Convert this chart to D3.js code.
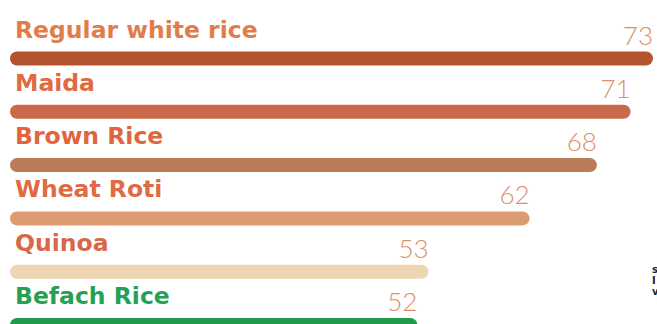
<!DOCTYPE html>
<html>
<head>
<meta charset="utf-8">
<script src="https://cdnjs.cloudflare.com/ajax/libs/d3/7.8.5/d3.min.js"></script>
<style>
  body { margin: 0; background: #fff; }
  .cat { font-family: "DejaVu Sans", sans-serif; font-weight: 700; }
  .val { font-family: "Lato", sans-serif; font-weight: 300; }
</style>
</head>
<body>
<div id="chart"></div>
<script>
// Glycemic index values
var categories = ["Regular white rice", "Maida", "Brown Rice", "Wheat Roti", "Quinoa", "Befach Rice"];
var values = [73, 71, 68, 62, 53, 52];
var barColors = ["#b5532f", "#c96a4b", "#b97c59", "#dd9b72", "#eed6b3", "#1d9b4b"];
var labelColors = ["#e27c4c", "#e06a42", "#e0653f", "#df6a43", "#d9684a", "#27a055"];

var svgWidth = 657;
var svgHeight = 324;

var svg = d3.select("#chart")
  .append("svg")
  .attr("width", svgWidth)
  .attr("height", svgHeight);

var rows = categories.map(function(c, i) {
  return { name: c, value: values[i], bar: barColors[i], label: labelColors[i] };
});

// Scales
var xScale = d3.scaleLinear()
  .domain([15.7, 73])
  .range([0, 643]);

var yScale = d3.scalePoint()
  .domain(categories)
  .range([58.5, 325]);

var barH = 14;
var left = 10;

var rowGroup = svg.selectAll("g.row")
  .data(rows)
  .enter()
  .append("g")
  .attr("class", "row")
  .attr("transform", d => `translate(${left}, ${yScale(d.name)})`);

rowGroup.append("rect")
  .attr("x", 0)
  .attr("y", -barH / 2)
  .attr("width", d => xScale(d.value))
  .attr("height", barH)
  .attr("rx", barH / 2)
  .attr("fill", d => d.bar);

rowGroup.append("text")
  .attr("class", "cat")
  .attr("x", 5)
  .attr("y", -21)
  .attr("font-size", 23.5)
  .attr("fill", d => d.label)
  .text(d => d.name);

rowGroup.append("text")
  .attr("class", "val")
  .attr("x", d => xScale(d.value))
  .attr("y", -14)
  .attr("text-anchor", "end")
  .attr("font-size", 26)
  .attr("fill", "#d98f69")
  .text(d => d.value);

// cut-off text at the right edge
var frag = ["s", "I", "v"];
svg.selectAll("text.frag")
  .data(frag)
  .enter()
  .append("text")
  .attr("class", "frag")
  .attr("x", 652)
  .attr("y", (d, i) => 273 + i * 11)
  .attr("font-family", "DejaVu Sans")
  .attr("font-weight", 700)
  .attr("font-size", 10)
  .attr("fill", "#222")
  .text(d => d);
</script>
</body>
</html>
